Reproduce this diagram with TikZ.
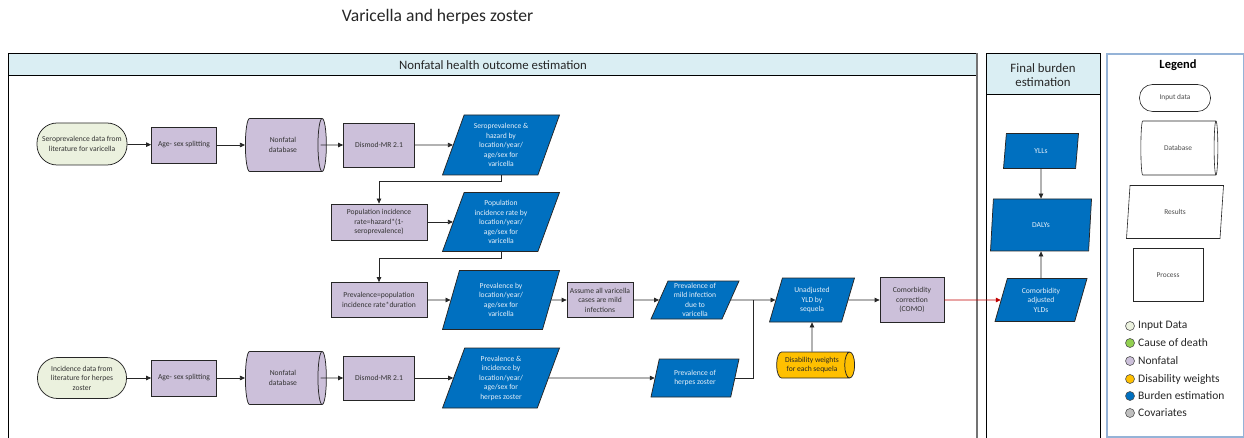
\documentclass[tikz,border=0pt]{standalone}
\usepackage{fontspec}
\setmainfont{Carlito}
\usetikzlibrary{shapes.geometric,arrows.meta}

\definecolor{hdr}{HTML}{DAEEF3}
\definecolor{inp}{HTML}{EBF1DE}
\definecolor{nonf}{HTML}{CCC0DA}
\definecolor{burden}{HTML}{0070C0}
\definecolor{dwcol}{HTML}{FFC000}
\definecolor{cod}{HTML}{92D050}
\definecolor{cov}{HTML}{BFBFBF}
\definecolor{edge}{HTML}{262626}
\definecolor{txt}{HTML}{333333}
\definecolor{restxt}{HTML}{E6F0FA}
\definecolor{legframe}{HTML}{95B3D7}
\definecolor{comored}{HTML}{C00000}

\begin{document}
\begin{tikzpicture}[x=1pt,y=-1pt,
  every node/.style={inner sep=1pt, align=center, font=\fontsize{7.6}{9.5}\selectfont, text=txt},
  wh/.style 2 args={minimum width=#1pt, minimum height=#2pt},
  % cylinders take their sizes across (width) and along (height) the axis
  cyl/.style 2 args={minimum width=#2pt, minimum height=#1pt},
  shp/.style={draw=edge, line width=0.75pt},
  inputbox/.style={shp, rectangle, rounded corners=20pt, fill=inp},
  procbox/.style={shp, rectangle, fill=nonf},
  resbox/.style={shp, trapezium, trapezium left angle=64, trapezium right angle=116,
    trapezium stretches body, inner sep=0.5pt, fill=burden, text=restxt},
  dbbox/.style={shp, cylinder, aspect=0.5, fill=nonf},
  dwbox/.style={shp, cylinder, aspect=0.55, fill=dwcol, text=black!85},
  legshape/.style={draw=edge, line width=0.6pt, fill=white, text=black!70,
    font=\fontsize{7.4}{9}\selectfont},
  legdot/.style={circle, draw=edge!80, line width=0.6pt, minimum size=9pt, inner sep=0pt},
  legtext/.style={anchor=west, font=\fontsize{11.5}{13}\selectfont, text=black!85},
  panel/.style={draw=black, line width=1pt},
  arr/.style={draw=edge, line width=0.75pt, -{Triangle[length=5pt,width=4.5pt]}},
  link/.style={draw=edge, line width=0.75pt}]

\useasboundingbox (0,0) rectangle (1244,438);

% title
\node[font=\fontsize{17.6}{20}\selectfont, text=black!85] (title) at (437.5,17) {Varicella and herpes zoster};

% panel: nonfatal health outcome estimation
\fill[hdr] (8,54) rectangle (977,76);
\draw[panel] (8,438) -- (8,54) -- (977,54);
\draw[panel] (8,76) -- (977,76);
\draw[draw=black!55, line width=1.6pt] (977,53.5) -- (977,438);
\node[font=\fontsize{12.8}{15}\selectfont, text=black!85] (hnf) at (493,65) {Nonfatal health outcome estimation};

% panel: final burden estimation
\fill[hdr] (986,54) rectangle (1100,95);
\draw[panel] (986,438) -- (986,54) -- (1100,54) -- (1100,438);
\draw[panel] (986,95) -- (1100,95);
\node[font=\fontsize{12.8}{14.5}\selectfont, text=black!85] (hfb) at (1043,75) {Final burden\\estimation};

% legend frame
\draw[draw=legframe, line width=1.3pt] (1107,54) rectangle (1243.4,437);

% ---- varicella row ----
\node[inputbox, wh={90}{42}] (sero) at (82,144) {Seroprevalence data from\\literature for varicella};
\node[procbox, wh={65}{36}] (age1) at (184,145) {Age- sex splitting};
\node[dbbox, cyl={81}{53}] (db1) at (283,145) {Nonfatal\\database};
\node[procbox, wh={71}{44}] (dm1) at (379,145) {Dismod-MR 2.1};
\node[resbox, wh={117}{60}] (r1) at (501,145) {Seroprevalence \&\\hazard by\\location/year/\\age/sex for\\varicella};

\node[procbox, wh={96}{36}] (p2) at (379,222) {Population incidence\\rate=hazard*(1-\\seroprevalence)};
\node[resbox, wh={117}{59}] (r2) at (501,222) {Population\\incidence rate by\\location/year/\\age/sex for\\varicella};

\node[procbox, wh={96}{35}] (p3) at (379,300) {Prevalence=population\\incidence rate*duration};
\node[resbox, wh={117}{59}] (r3) at (501,300) {Prevalence by\\location/year/\\age/sex for\\varicella};
\node[procbox, wh={66}{35}] (p4) at (600,300) {Assume all varicella\\cases are mild\\infections};
\node[resbox, wh={88}{38}] (r4) at (695,300) {Prevalence of\\mild infection\\due to\\varicella};
\node[resbox, wh={85}{44}] (r5) at (812,300) {Unadjusted\\YLD by\\sequela};
\node[procbox, wh={64}{45}] (como) at (912,300) {Comorbidity\\correction\\(COMO)};
\node[dwbox, cyl={78}{26}] (dw) at (812,365) {Disability weights\\for each sequela};

% ---- herpes zoster row ----
\node[inputbox, wh={89}{41}] (inc) at (82,378) {Incidence data from\\literature for herpes\\zoster};
\node[procbox, wh={65}{36}] (age2) at (184,378) {Age- sex splitting};
\node[dbbox, cyl={81}{53}] (db2) at (283,378) {Nonfatal\\database};
\node[procbox, wh={71}{44}] (dm2) at (379,378) {Dismod-MR 2.1};
\node[resbox, wh={117}{60}] (r6) at (501,378) {Prevalence \&\\incidence by\\location/year/\\age/sex for\\herpes zoster};
\node[resbox, wh={88}{38}] (r7) at (695,378) {Prevalence of\\herpes zoster};

% ---- final burden ----
\node[resbox, wh={75}{35}] (yll) at (1041,151) {YLLs};
\node[resbox, wh={101}{52}] (daly) at (1041,225) {DALYs};
\node[resbox, wh={92}{43}] (cyld) at (1041,300) {Comorbidity\\adjusted\\YLDs};

% ---- connectors ----
\draw[arr] (sero) -- (age1);
\draw[arr] (age1) -- (db1);
\draw[arr] ([xshift=-6pt]db1.east) -- (dm1);
\draw[arr] (dm1) -- (r1);
\draw[arr] (r1.south) -- ++(0,6) -| (p2.north);
\draw[arr] (p2) -- (r2);
\draw[arr] (r2.south) -- ++(0,6) -| (p3.north);
\draw[arr] (p3) -- (r3);
\draw[arr] (r3) -- (p4);
\draw[arr] (p4) -- (r4);
\draw[arr] (r4) -- (r5);
\coordinate (join) at (753,300);
\draw[link] (r7.east) -| (join);
\draw[arr] (dw) -- (r5);
\draw[arr] (r5) -- (como);
\draw[arr, draw=comored] (como) -- (cyld);

\draw[arr] (inc) -- (age2);
\draw[arr] (age2) -- (db2);
\draw[arr] ([xshift=-6pt]db2.east) -- (dm2);
\draw[arr] (dm2) -- (r6);
\draw[arr] (r6) -- (r7);

\draw[arr] (yll) -- (daly);
\draw[arr] (cyld) -- (daly);

% ---- legend ----
\node[font=\bfseries\fontsize{12.5}{14}\selectfont, text=black] (legt) at (1178,65) {Legend};
\node[legshape, rectangle, rounded corners=13pt, wh={71}{27}] (lin) at (1175,98) {Input data};
\node[legshape, cylinder, aspect=0.52, cyl={77}{54}] (ldb) at (1178,148) {Database};
\node[legshape, trapezium, trapezium left angle=64, trapezium right angle=116,
  trapezium stretches body, wh={97}{53}] (lres) at (1175,212) {Results};
\node[legshape, rectangle, wh={70}{53}] (lproc) at (1168,275) {Process};

\node[legdot, fill=inp] (d1) at (1130,326) {};
\node[legtext] (t1) at (1137,326) {Input Data};
\node[legdot, fill=cod] (d2) at (1130,343) {};
\node[legtext] (t2) at (1137,343) {Cause of death};
\node[legdot, fill=nonf] (d3) at (1130,361) {};
\node[legtext] (t3) at (1137,361) {Nonfatal};
\node[legdot, fill=dwcol] (d4) at (1130,379) {};
\node[legtext] (t4) at (1137,379) {Disability weights};
\node[legdot, fill=burden] (d5) at (1130,396) {};
\node[legtext] (t5) at (1137,396) {Burden estimation};
\node[legdot, fill=cov] (d6) at (1130,413) {};
\node[legtext] (t6) at (1137,413) {Covariates};

\end{tikzpicture}
\end{document}
